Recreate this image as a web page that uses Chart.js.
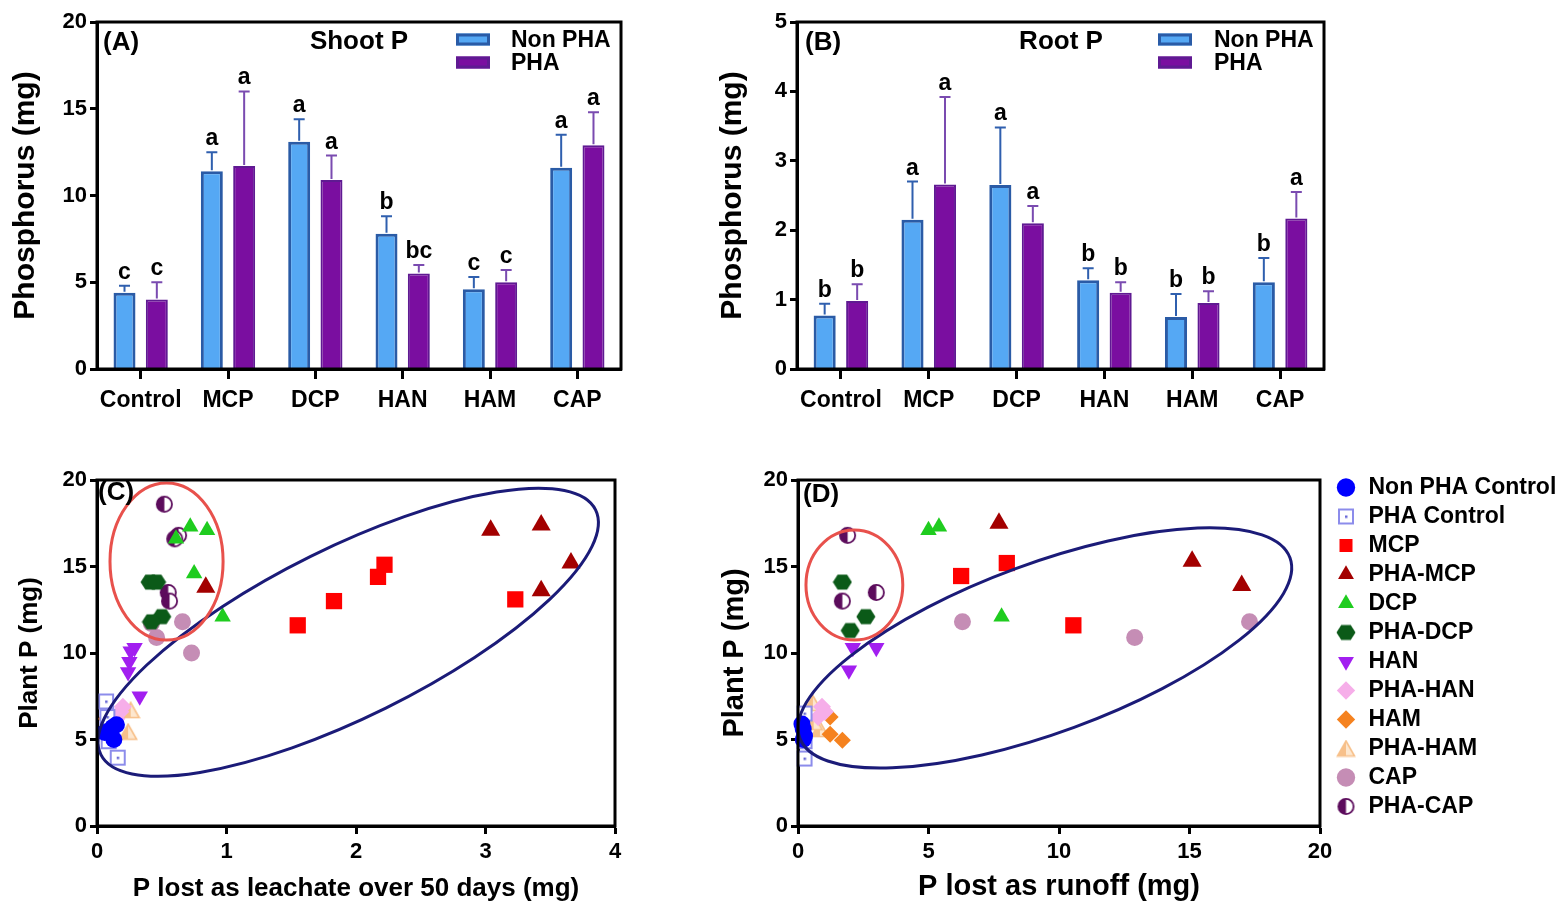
<!DOCTYPE html>
<html><head><meta charset="utf-8">
<script src="https://cdn.jsdelivr.net/npm/chart.js@4.4.0/dist/chart.umd.min.js"></script>
<style>
html,body{margin:0;padding:0;background:#fff;width:1559px;height:907px;overflow:hidden;position:relative;}
canvas{position:absolute;display:block;}
</style></head><body>
<canvas id="cA" width="640" height="420" style="left:0;top:0;width:640px;height:420px"></canvas>
<canvas id="cB" width="640" height="420" style="left:700px;top:0;width:640px;height:420px"></canvas>
<canvas id="cC" width="640" height="452" style="left:0;top:455px;width:640px;height:452px"></canvas>
<canvas id="cD" width="640" height="452" style="left:700px;top:455px;width:640px;height:452px"></canvas>
<canvas id="cL" width="520" height="452" style="left:1329px;top:455px;width:520px;height:452px"></canvas>
<script>
// ---------------- DATA ----------------
const categories = ['Control','MCP','DCP','HAN','HAM','CAP'];
const shootNonPHA = [4.4, 11.4, 13.1, 7.8, 4.6, 11.6];
const shootNonPHAErr = [0.4, 1.1, 1.3, 1.0, 0.7, 1.9];
const shootPHA = [4.0, 11.7, 10.9, 5.5, 5.0, 12.9];
const shootPHAErr = [1.0, 4.3, 1.4, 0.5, 0.7, 1.9];
const shootNonPHALetters = ['c','a','a','b','c','a'];
const shootPHALetters = ['c','a','a','bc','c','a'];
const shootTicks = [0, 5, 10, 15, 20];

const rootNonPHA = [0.77, 2.15, 2.65, 1.28, 0.75, 1.25];
const rootNonPHAErr = [0.17, 0.55, 0.83, 0.17, 0.33, 0.35];
const rootPHA = [0.98, 2.66, 2.10, 1.10, 0.95, 2.17];
const rootPHAErr = [0.24, 1.26, 0.25, 0.15, 0.17, 0.38];
const rootNonPHALetters = ['b','a','a','b','b','b'];
const rootPHALetters = ['b','a','a','b','b','a'];
const rootTicks = [0, 1, 2, 3, 4, 5];

const seriesNames = ['Non PHA Control','PHA Control','MCP','PHA-MCP','DCP','PHA-DCP','HAN','PHA-HAN','HAM','PHA-HAM','CAP','PHA-CAP'];

// Panel C: P lost as leachate (x) vs plant P (y)
const nonPHAControlC = [[0.06,5.4],[0.12,5.7],[0.15,5.85],[0.13,5.0]];
const phaControlC = [[0.07,7.2],[0.08,6.3],[0.09,4.9],[0.16,3.95]];
const mcpC = [[1.55,11.6],[1.83,13.0],[2.17,14.4],[2.22,15.1],[3.23,13.1]];
const phaMcpC = [[0.84,13.8],[3.04,17.1],[3.43,17.4],[3.66,15.2],[3.43,13.6]];
const dcpC = [[0.61,16.6],[0.72,17.3],[0.85,17.1],[0.75,14.6],[0.97,12.1]];
const phaDcpC = [[0.41,14.1],[0.46,14.1],[0.50,12.1],[0.42,11.8]];
const hanC = [[0.29,10.3],[0.26,10.1],[0.25,9.5],[0.24,8.9],[0.33,7.5]];
const phaHanC = [[0.20,6.9],[0.15,6.2],[0.18,6.6]];
const hamC = [[0.07,6.2],[0.10,5.9]];
const phaHamC = [[0.26,6.7],[0.24,5.45],[0.12,6.0]];
const capC = [[0.42,11.7],[0.46,10.9],[0.66,11.8],[0.73,10.0]];
const phaCapC = [[0.52,18.6],[0.63,16.8],[0.60,16.6],[0.55,13.5],[0.56,13.0]];
const xTicksC = [0, 1, 2, 3, 4];

// Panel D: P lost as runoff (x) vs plant P (y)
const nonPHAControlD = [[0.15,5.9],[0.20,5.6],[0.25,5.2],[0.20,5.0]];
const phaControlD = [[0.25,6.5],[0.25,4.9],[0.25,3.9]];
const mcpD = [[6.25,14.45],[8.0,15.2],[10.55,11.6]];
const phaMcpD = [[7.7,17.5],[15.1,15.3],[17.0,13.9]];
const dcpD = [[5.0,17.1],[5.4,17.3],[7.8,12.1]];
const phaDcpD = [[1.7,14.1],[2.6,12.1],[2.0,11.3]];
const hanD = [[2.1,10.3],[3.0,10.3],[1.95,9.0]];
const phaHanD = [[0.92,6.9],[0.77,6.3],[1.03,6.6]];
const hamD = [[1.23,6.3],[1.23,5.3],[1.7,4.95]];
const phaHamD = [[0.57,7.1],[0.84,5.6],[0.60,6.0]];
const capD = [[6.3,11.8],[12.9,10.9],[17.3,11.8]];
const phaCapD = [[1.9,16.8],[3.0,13.5],[1.7,13.0]];
const xTicksD = [0, 5, 10, 15, 20];
const yTicksScatter = [0, 5, 10, 15, 20];

// ellipse annotations (data units): centre, tip of one semi-axis, ratio of the other semi-axis
const ellipsesC = [
  {cx:1.94, cy:11.2, tx:3.85, ty:18.27, ratio:0.307, color:'#1b1b78'},
  {cx:0.537, cy:15.29, tx:0.537, ty:19.83, ratio:0.72, color:'#e8514c'}
];
const ellipsesD = [
  {cx:9.46, cy:10.29, tx:18.85, ty:15.5, ratio:0.324, color:'#1b1b78'},
  {cx:2.16, cy:13.93, tx:2.16, ty:17.11, ratio:0.88, color:'#e8514c'}
];

// ---------------- STYLE ----------------
const FONT = '"Liberation Sans", Arial, Helvetica, sans-serif';
Chart.defaults.font.family = FONT;
Chart.defaults.font.weight = 'bold';
Chart.defaults.color = '#000';

const BLUE_FILL = '#55a8f4', BLUE_BORDER = '#2a5ba6', BLUE_ERR = '#2f5fae';
const PUR_FILL = '#7a0ea0', PUR_BORDER = '#5f1a92', PUR_ERR = '#7a4bb0';

function setTicks(arr){ return s => { s.ticks = arr.map(v => ({value:v})); }; }

const barAnnot = {
  id:'barAnnot',
  afterDatasetsDraw(chart, args, o){
    const {ctx, chartArea:a, scales:{y}} = chart;
    ctx.save();
    chart.data.datasets.forEach((ds,i)=>{
      const meta = chart.getDatasetMeta(i);
      meta.data.forEach((bar,j)=>{
        const top = y.getPixelForValue(ds.data[j] + ds.errs[j]);
        ctx.strokeStyle = ds.errColor; ctx.lineWidth = 2;
        ctx.beginPath();
        ctx.moveTo(bar.x, bar.y - 1); ctx.lineTo(bar.x, top);
        ctx.moveTo(bar.x - 5.5, top); ctx.lineTo(bar.x + 5.5, top);
        ctx.stroke();
        ctx.fillStyle = '#000';
        ctx.font = 'bold 23px ' + FONT;
        ctx.textAlign = 'center'; ctx.textBaseline = 'alphabetic';
        ctx.fillText(ds.letters[j], bar.x, top - 7);
      });
    });
    ctx.lineWidth = 3; ctx.strokeStyle = '#000';
    ctx.strokeRect(a.left, a.top, a.right - a.left, a.bottom - a.top);
    ctx.fillStyle = '#000'; ctx.textBaseline = 'middle';
    ctx.font = 'bold 26px ' + FONT; ctx.textAlign = 'left';
    ctx.fillText(o.panel, o.panelX, 43);
    ctx.textAlign = 'center';
    ctx.fillText(o.title, o.titleX, 42);
    const ds = chart.data.datasets;
    ctx.font = 'bold 23px ' + FONT; ctx.textAlign = 'left';
    [[0, 39.5],[1, 62.5]].forEach(([k, cy])=>{
      ctx.fillStyle = ds[k].backgroundColor; ctx.fillRect(o.boxX, cy - 6, 34, 12);
      ctx.strokeStyle = ds[k].borderColor; ctx.lineWidth = 3;
      ctx.strokeRect(o.boxX + 1.5, cy - 6 + 1.5, 31, 9);
      ctx.fillStyle = '#000'; ctx.fillText(ds[k].label, o.textX, cy + 1);
    });
    ctx.restore();
  }
};

function barChart(id, nonV, nonE, nonL, phaV, phaE, phaL, ticks, annot, padRight, titlePad){
  return new Chart(document.getElementById(id), {
    type:'bar',
    data:{ labels:categories, datasets:[
      {label:'Non PHA', data:nonV, errs:nonE, letters:nonL, errColor:BLUE_ERR,
       backgroundColor:BLUE_FILL, borderColor:BLUE_BORDER, borderWidth:3,
       categoryPercentage:0.74, barPercentage:0.68},
      {label:'PHA', data:phaV, errs:phaE, letters:phaL, errColor:PUR_ERR,
       backgroundColor:PUR_FILL, borderColor:PUR_BORDER, borderWidth:2,
       categoryPercentage:0.74, barPercentage:0.68}
    ]},
    options:{
      responsive:false, animation:false, devicePixelRatio:1,
      layout:{padding:{top:22, right:padRight, left:0, bottom:0}},
      plugins:{legend:{display:false}, tooltip:{enabled:false}, barAnnot:annot},
      scales:{
        x:{offset:true,
           grid:{display:true, drawOnChartArea:false, offset:false, tickLength:10, tickWidth:3, color:'#000'},
           border:{display:true, width:3, color:'#000'},
           ticks:{font:{size:23, weight:'bold'}, color:'#000', padding:8, maxRotation:0, autoSkip:false},
           afterFit: s => { s.height = 51; }},
        y:{min:ticks[0], max:ticks[ticks.length-1], afterBuildTicks:setTicks(ticks),
           grid:{display:true, drawOnChartArea:false, tickLength:7, tickWidth:3, color:'#000'},
           border:{display:true, width:3, color:'#000'},
           ticks:{font:{size:22, weight:'bold'}, color:'#000', padding:3},
           title:{display:true, text:'Phosphorus (mg)', font:{size:30, weight:'bold'}, color:'#000', padding:{top:titlePad, bottom:0}},
           afterFit: s => { s.width = 97; }}
      }
    },
    plugins:[barAnnot]
  });
}

barChart('cA', shootNonPHA, shootNonPHAErr, shootNonPHALetters, shootPHA, shootPHAErr, shootPHALetters, shootTicks,
  {panel:'(A)', panelX:103, title:'Shoot P', titleX:359, boxX:456, textX:511}, 19, 8);
barChart('cB', rootNonPHA, rootNonPHAErr, rootNonPHALetters, rootPHA, rootPHAErr, rootPHALetters, rootTicks,
  {panel:'(B)', panelX:105, title:'Root P', titleX:361, boxX:458, textX:514}, 16, 15);

// ---------------- custom point images ----------------
function mk(w, h, fn){ const c = document.createElement('canvas'); c.width = w; c.height = h; fn(c.getContext('2d')); return c; }
const imgPhaControl = mk(18,18, g=>{ g.fillStyle='#fff'; g.fillRect(2,2,14,14); g.strokeStyle='#8c8ceb'; g.lineWidth=2; g.strokeRect(2,2,14,14); g.fillStyle='#6a6ad8'; g.fillRect(8,8,2.5,2.5); });
const imgHex = mk(20,20, g=>{ g.fillStyle='#0b5a18'; g.beginPath(); for(let k=0;k<6;k++){ const an = Math.PI/3*k; const px = 10 + 9.5*Math.cos(an), py = 10 + 8.6*Math.sin(an); k?g.lineTo(px,py):g.moveTo(px,py);} g.closePath(); g.fill(); });
const imgHalfCircle = mk(19,19, g=>{ g.fillStyle='#fff'; g.beginPath(); g.arc(9.5,9.5,7.6,0,Math.PI*2); g.fill();
  g.fillStyle='#5c0c5c'; g.beginPath(); g.arc(9.5,9.5,7.6,Math.PI/2,Math.PI*1.5); g.closePath(); g.fill();
  g.strokeStyle='#5c0c5c'; g.lineWidth=1.8; g.beginPath(); g.arc(9.5,9.5,7.6,0,Math.PI*2); g.stroke(); });
const imgHalfTri = mk(20,18, g=>{ g.fillStyle='#fde7cf'; g.beginPath(); g.moveTo(10,1.5); g.lineTo(18.5,16.5); g.lineTo(1.5,16.5); g.closePath(); g.fill();
  g.fillStyle='#f7c08a'; g.beginPath(); g.moveTo(10,1.5); g.lineTo(10,16.5); g.lineTo(1.5,16.5); g.closePath(); g.fill();
  g.strokeStyle='#f7c08a'; g.lineWidth=1.6; g.beginPath(); g.moveTo(10,1.5); g.lineTo(18.5,16.5); g.lineTo(1.5,16.5); g.closePath(); g.stroke(); });

const styles = [
  {pointStyle:'circle', radius:8.5, color:'#0000ff'},
  {pointStyle:imgPhaControl, radius:9, color:'#8c8ceb'},
  {pointStyle:'rect', radius:11.5, color:'#ff0000'},
  {pointStyle:'triangle', radius:11, color:'#a30000'},
  {pointStyle:'triangle', radius:9.5, color:'#1fcc1f'},
  {pointStyle:imgHex, radius:9, color:'#0b5a18'},
  {pointStyle:'triangle', radius:9.5, color:'#a21ff0', rotation:180},
  {pointStyle:'rectRot', radius:9, color:'#f6aee9'},
  {pointStyle:'rectRot', radius:8.5, color:'#f5821f'},
  {pointStyle:imgHalfTri, radius:9, color:'#f7c08a'},
  {pointStyle:'circle', radius:8.5, color:'#c58db5'},
  {pointStyle:imgHalfCircle, radius:9, color:'#5c0c5c'}
];

function toXY(arr){ return arr.map(p => ({x:p[0], y:p[1]})); }
function makeDatasets(sets){
  return sets.map((d,i)=>({
    label:seriesNames[i], data:toXY(d), clip:false,
    pointStyle:styles[i].pointStyle, pointRadius:styles[i].radius, pointRotation:styles[i].rotation || 0,
    backgroundColor:styles[i].color, borderColor:styles[i].color, borderWidth:0, pointHoverRadius:styles[i].radius
  }));
}

const ellipsePlugin = {
  id:'ellAnnot',
  afterDatasetsDraw(chart, args, o){
    const {ctx, chartArea:a, scales:{x, y}} = chart;
    ctx.save();
    o.ellipses.forEach(e=>{
      const cx = x.getPixelForValue(e.cx), cy = y.getPixelForValue(e.cy);
      const tx = x.getPixelForValue(e.tx), ty = y.getPixelForValue(e.ty);
      const A = Math.hypot(tx - cx, ty - cy), ang = Math.atan2(ty - cy, tx - cx);
      ctx.strokeStyle = e.color; ctx.lineWidth = 3;
      ctx.beginPath(); ctx.ellipse(cx, cy, A, A * e.ratio, ang, 0, Math.PI*2); ctx.stroke();
    });
    ctx.lineWidth = 3; ctx.strokeStyle = '#000';
    ctx.strokeRect(a.left, a.top, a.right - a.left, a.bottom - a.top);
    ctx.fillStyle = '#000'; ctx.font = 'bold 26px ' + FONT; ctx.textAlign = 'left'; ctx.textBaseline = 'middle';
    ctx.fillText(o.panel, o.panelX, o.panelY);
    ctx.restore();
  }
};

function scatterChart(id, sets, xTicks, xTitle, xTitleSize, yTitleSize, yTitlePad, ellipses, panel, panelX, panelY, yWidth, padRight){
  return new Chart(document.getElementById(id), {
    type:'scatter',
    data:{ datasets: makeDatasets(sets) },
    options:{
      responsive:false, animation:false, devicePixelRatio:1,
      layout:{padding:{top:25, right:padRight, left:0, bottom:0}},
      plugins:{
        tooltip:{enabled:false}, legend:{display:false},
        ellAnnot:{ellipses, panel, panelX, panelY}
      },
      scales:{
        x:{type:'linear', min:xTicks[0], max:xTicks[xTicks.length-1], afterBuildTicks:setTicks(xTicks),
           grid:{display:true, drawOnChartArea:false, tickLength:8, tickWidth:3, color:'#000'},
           border:{display:true, width:3, color:'#000'},
           ticks:{font:{size:22, weight:'bold'}, color:'#000', padding:5},
           title:{display:true, text:xTitle, font:{size:xTitleSize, weight:'bold'}, color:'#000', padding:{top:0, bottom:3}},
           afterFit: s => { s.height = 81; }},
        y:{min:0, max:20, afterBuildTicks:setTicks(yTicksScatter),
           grid:{display:true, drawOnChartArea:false, tickLength:7, tickWidth:3, color:'#000'},
           border:{display:true, width:3, color:'#000'},
           ticks:{font:{size:22, weight:'bold'}, color:'#000', padding:3},
           title:{display:true, text:'Plant P (mg)', font:{size:yTitleSize, weight:'bold'}, color:'#000', padding:{top:yTitlePad, bottom:0}},
           afterFit: s => { s.width = yWidth; }}
      }
    },
    plugins:[ellipsePlugin]
  });
}

scatterChart('cC', [nonPHAControlC, phaControlC, mcpC, phaMcpC, dcpC, phaDcpC, hanC, phaHanC, hamC, phaHamC, capC, phaCapC],
  xTicksC, 'P lost as leachate over 50 days (mg)', 26, 26, 14, ellipsesC, '(C)', 98, 38, 97, 25);
scatterChart('cD', [nonPHAControlD, phaControlD, mcpD, phaMcpD, dcpD, phaDcpD, hanD, phaHanD, hamD, phaHamD, capD, phaCapD],
  xTicksD, 'P lost as runoff (mg)', 29, 29, 18, ellipsesD, '(D)', 103, 40, 98, 20);

// shared legend for panels C and D (legend-only chart, same series styles)
new Chart(document.getElementById('cL'), {
  type:'scatter',
  data:{ datasets: makeDatasets(seriesNames.map(()=>[])) },
  options:{
    responsive:false, animation:false, devicePixelRatio:1,
    layout:{padding:{top:15, left:0, right:0, bottom:0}},
    plugins:{ tooltip:{enabled:false},
      legend:{display:true, position:'left', align:'start',
        labels:{usePointStyle:true, boxWidth:22, boxHeight:13, padding:6, color:'#000', font:{size:23, weight:'bold'}}}},
    scales:{ x:{display:false}, y:{display:false} }
  }
});
</script>
</body></html>
